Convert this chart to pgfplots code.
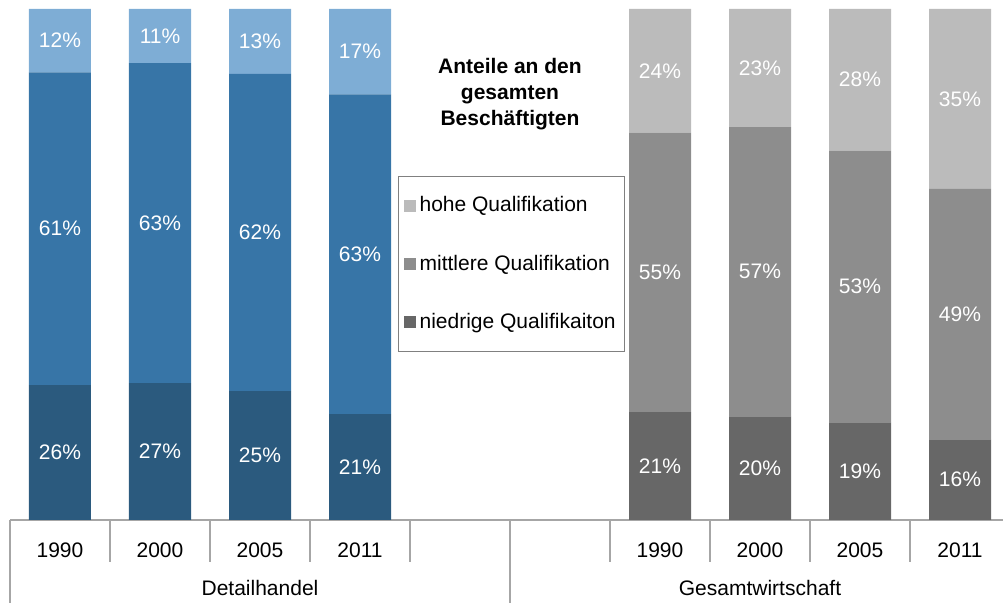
\documentclass[border=0pt]{standalone}
\usepackage{pgfplots}
\pgfplotsset{compat=1.18}
\usepackage{fontspec}
\setmainfont{Liberation Sans}

\definecolor{bluelow}{HTML}{2B5A7E}
\definecolor{bluemid}{HTML}{3775A7}
\definecolor{bluehigh}{HTML}{7EADD5}
\definecolor{graylow}{HTML}{676767}
\definecolor{graymid}{HTML}{8D8D8D}
\definecolor{grayhigh}{HTML}{BBBBBB}
\definecolor{axisgray}{HTML}{A6A6A6}

\newcommand\fsz{\fontsize{10.5}{12.6}\selectfont}

\pgfplotsset{
  shares/.style={
    scale only axis, width=500pt, height=255.5pt,
    xmin=-0.5, xmax=9.5, ymin=0, ymax=100,
    ybar stacked, bar width=31pt,
    clip=false,
    font=\fsz,
    /pgf/number format/assume math mode=true,
    nodes near coords={\pgfmathprintnumber[fixed,precision=0]{\pgfplotspointmeta}\%},
    every node near coord/.append style={font=\fsz, text=white, anchor=center},
  },
}

\begin{document}
\begin{tikzpicture}
% Detailhandel
\begin{axis}[
  shares,
  hide y axis,
  axis x line=bottom,
  x axis line style={-, draw=axisgray, line width=1pt},
  xtick={0,1,2,3,6,7,8,9},
  xticklabels={1990,2000,2005,2011,1990,2000,2005,2011},
  major tick length=0pt,
  xticklabel style={anchor=center, yshift=-15pt, font=\fsz},
]
  \addplot[fill=bluelow, draw=none] coordinates {(0,26.4) (1,26.8) (2,25.2) (3,20.7)};
  \addplot[fill=bluemid, draw=none] coordinates {(0,61.2) (1,62.6) (2,62.1) (3,62.6)};
  \addplot[fill=bluehigh, draw=none] coordinates {(0,12.4) (1,10.6) (2,12.7) (3,16.7)};

  \pgfplotsinvokeforeach{0.5,1.5,2.5,3.5,5.5,6.5,7.5,8.5}{
    \draw[axisgray, line width=1pt] (axis cs:#1,0) -- ++(0pt,-21pt);
  }
  \pgfplotsinvokeforeach{-0.5,4.5,9.5}{
    \draw[axisgray, line width=1pt] (axis cs:#1,0) -- ++(0pt,-42pt);
  }
  \node[font=\fsz] at (axis cs:2,0) [yshift=-34pt] {Detailhandel};
  \node[font=\fsz] at (axis cs:7,0) [yshift=-34pt] {Gesamtwirtschaft};
\end{axis}

% Gesamtwirtschaft
\begin{axis}[
  shares,
  hide axis,
  reverse legend,
  legend cell align=left,
  legend image code/.code={\fill[#1] (0pt,-3pt) rectangle (6pt,3pt);},
  legend style={at={(0.388,0.673)}, anchor=north west, draw=black!50,
    line width=0.6pt, inner xsep=2.5pt, inner ysep=8pt, row sep=16pt, font=\fsz},
]
  \addplot[fill=graylow, draw=none] coordinates {(6,21.1) (7,20.3) (8,19.1) (9,15.8)};
  \addplot[fill=graymid, draw=none] coordinates {(6,54.7) (7,56.6) (8,53.2) (9,49.0)};
  \addplot[fill=grayhigh, draw=none] coordinates {(6,24.2) (7,23.1) (8,27.7) (9,35.2)};
  \legend{niedrige Qualifikaiton, mittlere Qualifikation, hohe Qualifikation}
\end{axis}

\node[align=center, font=\fontsize{10.5}{13}\selectfont\bfseries] at (250pt,213pt) {Anteile an den\\gesamten\\Beschäftigten};

\pgfresetboundingbox
\path[use as bounding box] (-5pt,-41.5pt) rectangle (496.5pt,260pt);
\end{tikzpicture}
\end{document}
